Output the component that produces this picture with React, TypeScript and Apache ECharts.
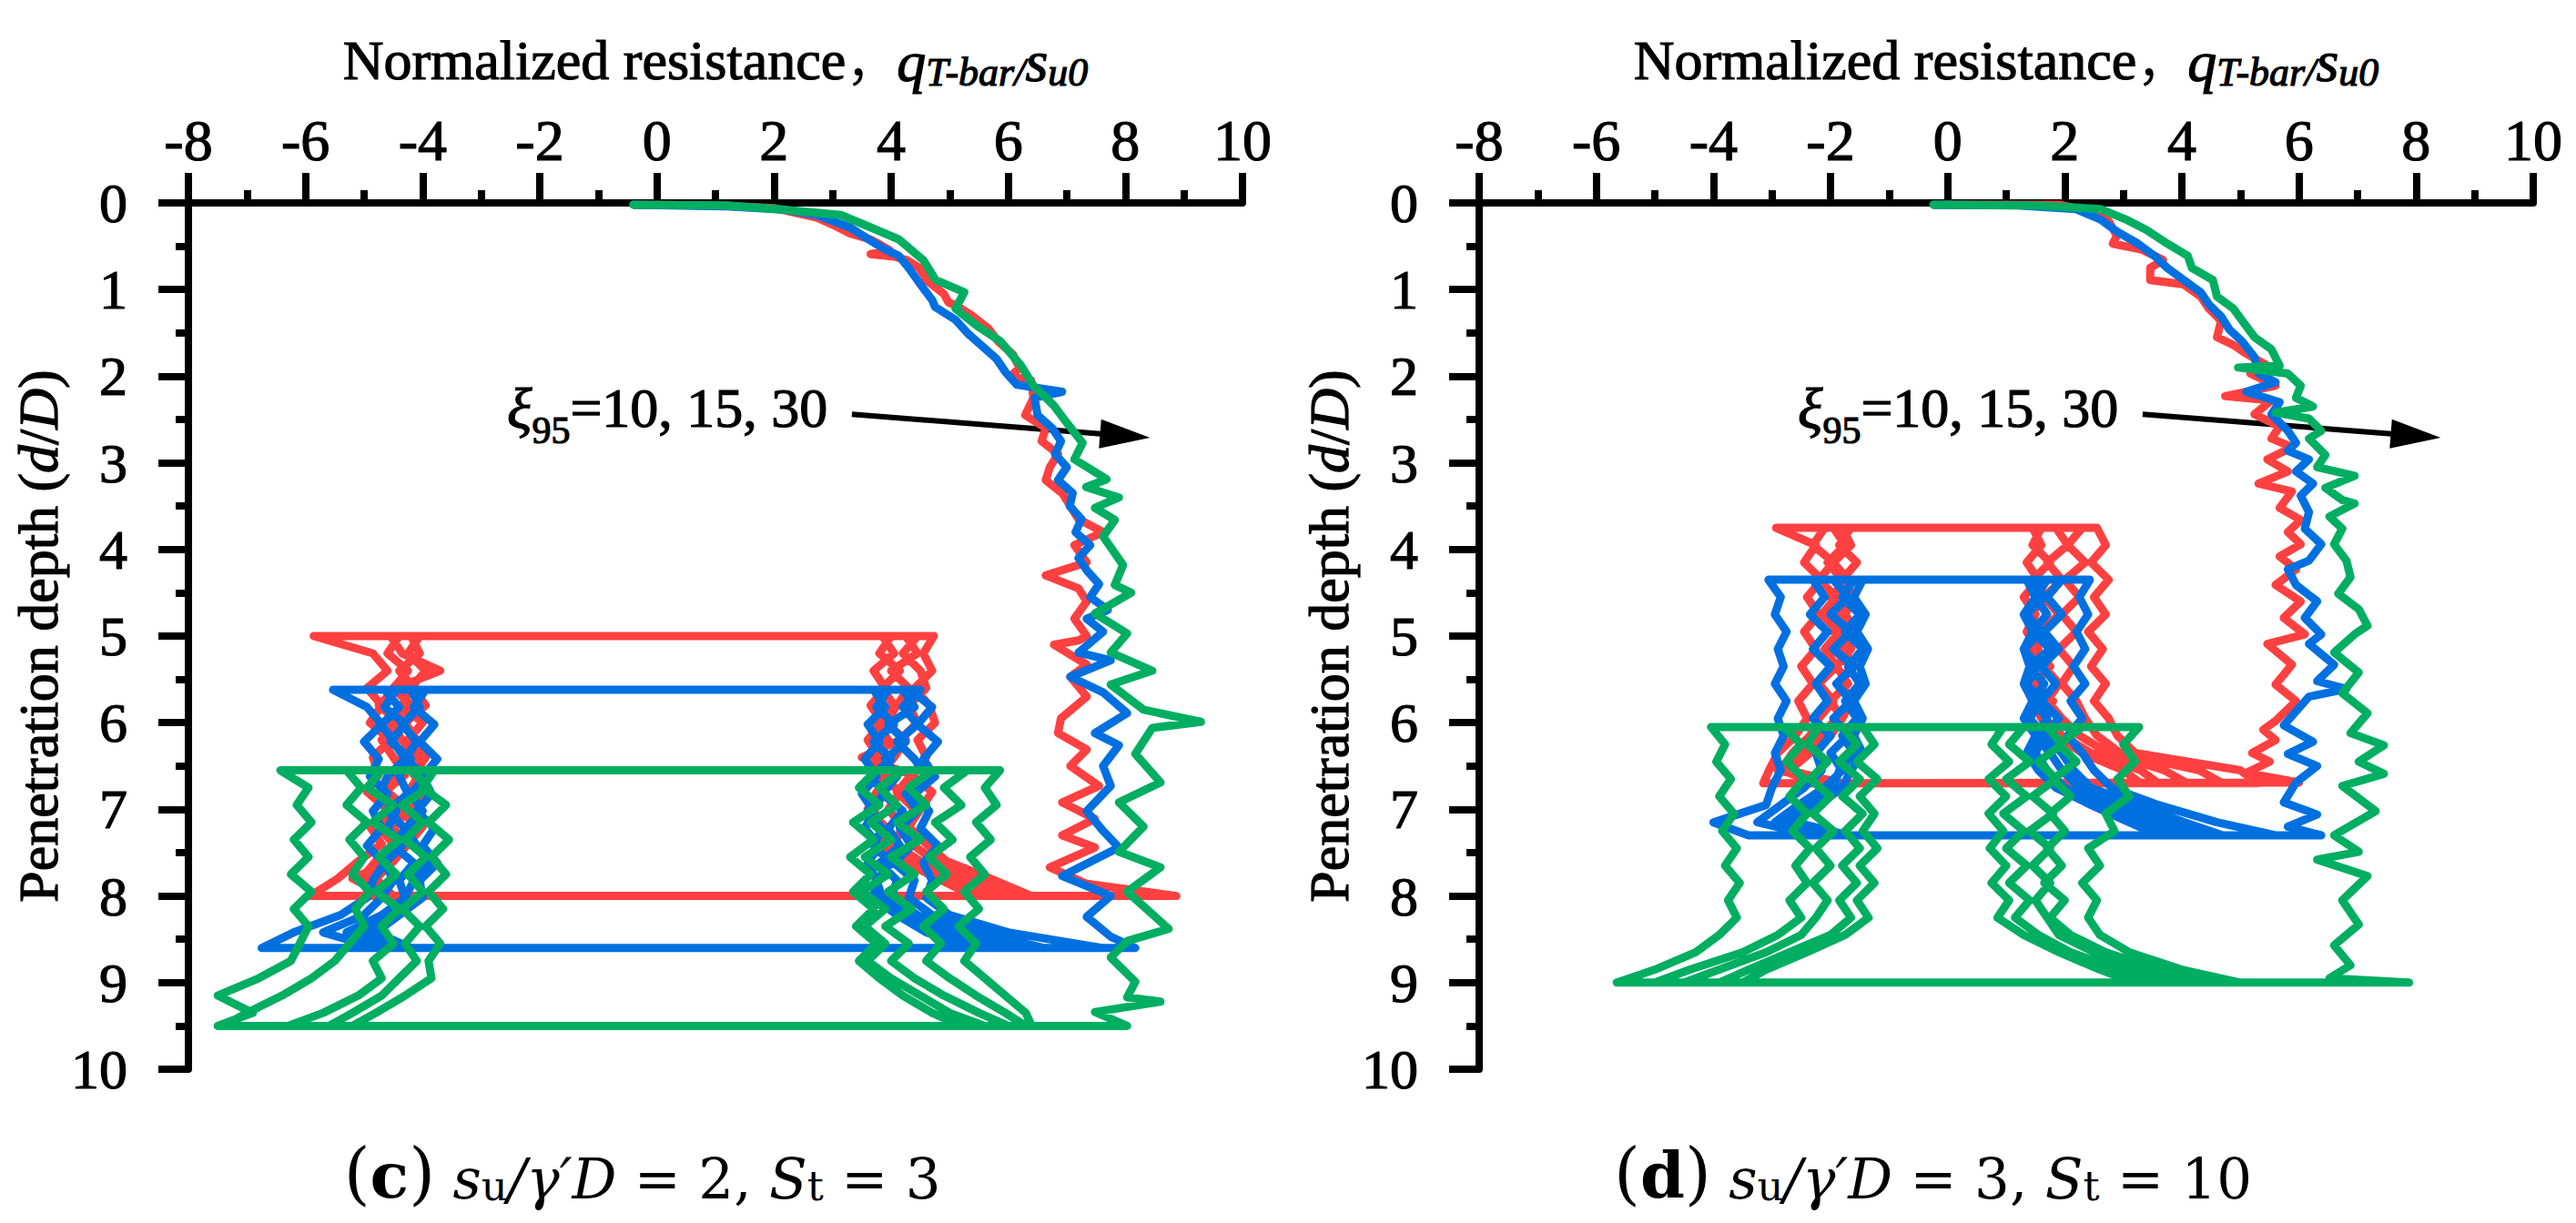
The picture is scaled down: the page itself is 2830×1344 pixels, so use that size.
// T-bar 循环贯入曲线 (c)(d) 两个子图
import { useEffect, useRef } from 'react'
import * as echarts from 'echarts'

const SERIF = "'Liberation Serif', 'Times New Roman', Times, Tinos, 'DejaVu Serif'"
const CJK = "'Noto Sans CJK SC'"
const CAPTION_FONT = "'DejaVu Serif'"

const RED = '#FF4040'
const BLUE = '#0070E0'
const GREEN = '#00AE62'

// 文字略加描边，模拟原图较粗的字形
const INK = { textBorderColor: '#000', textBorderWidth: 1.2 }

// 坐标轴范围
const X_MIN = -8
const X_MAX = 10
const X_STEP = 2
const Y_MIN = 0
const Y_MAX = 10
const Y_STEP = 1

// ---------- (c) su/γ'D = 2, St = 3 ----------
// 初次贯入 [q/su0, d/D]
const cRedMain = [
  [-0.4, 0.02], [1.0, 0.03], [2.0, 0.06], [2.73, 0.17], [3.0, 0.25], [3.29, 0.35], [3.64, 0.42], [3.78, 0.47],
  [3.98, 0.55], [3.65, 0.59], [4.05, 0.62], [4.27, 0.66], [4.48, 0.75], [4.62, 0.9], [4.9, 1.05], [4.98, 1.15],
  [5.1, 1.18], [5.38, 1.3], [5.66, 1.45], [5.83, 1.6], [6.08, 1.75], [6.19, 1.9], [6.05, 2.0], [6.39, 2.05],
  [6.43, 2.25], [6.29, 2.45], [6.64, 2.6], [6.57, 2.75], [6.85, 2.9], [6.71, 3.05], [6.64, 3.2], [6.92, 3.35],
  [7.06, 3.5], [7.2, 3.65], [7.62, 3.8], [7.13, 3.95], [7.34, 4.15], [6.64, 4.3], [7.2, 4.45], [7.34, 4.6],
  [7.13, 4.8], [7.34, 5.0], [7.2, 5.05], [6.78, 5.1], [7.34, 5.33], [7.06, 5.47], [7.34, 5.7], [6.9, 5.95],
  [6.85, 6.12], [7.34, 6.31], [7.06, 6.5], [7.55, 6.73], [6.92, 6.92], [7.48, 7.11], [6.92, 7.3], [7.48, 7.44],
  [6.71, 7.67], [7.34, 7.86], [8.87, 8.0],
]
const cBlueMain = [
  [-0.4, 0.02], [1.2, 0.04], [2.2, 0.08], [2.73, 0.14], [3.29, 0.28], [3.57, 0.4], [3.85, 0.52], [4.13, 0.61],
  [4.3, 0.75], [4.5, 0.94], [4.7, 1.12], [4.75, 1.2], [5.1, 1.35], [5.3, 1.5], [5.55, 1.65], [5.8, 1.8],
  [5.95, 1.95], [6.15, 2.1], [6.92, 2.18], [6.45, 2.25], [6.5, 2.45], [6.75, 2.6], [6.9, 2.75], [6.8, 2.9],
  [7.0, 3.05], [6.85, 3.2], [7.1, 3.35], [7.05, 3.5], [7.25, 3.65], [7.15, 3.8], [7.4, 3.95], [7.2, 4.1],
  [7.35, 4.25], [7.55, 4.4], [7.4, 4.55], [7.7, 4.7], [7.34, 4.8], [7.62, 4.95], [7.2, 5.19], [7.75, 5.28],
  [7.06, 5.47], [7.62, 5.65], [8.03, 5.89], [7.48, 6.12], [7.89, 6.26], [7.62, 6.5], [7.75, 6.73], [7.34, 7.02],
  [7.62, 7.25], [7.89, 7.44], [6.92, 7.77], [7.75, 8.0], [7.34, 8.24], [7.75, 8.47], [8.17, 8.6],
]
const cGreenMain = [
  [-0.4, 0.02], [1.2, 0.03], [2.04, 0.07], [3.15, 0.14], [3.57, 0.26], [4.13, 0.42], [4.55, 0.66], [4.76, 0.89],
  [5.25, 1.03], [5.1, 1.22], [5.45, 1.41], [5.87, 1.6], [6.22, 1.88], [6.43, 2.11], [6.78, 2.34], [6.99, 2.53],
  [7.27, 2.77], [7.13, 2.96], [7.68, 3.19], [7.33, 3.28], [7.89, 3.4], [7.48, 3.52], [7.82, 3.66], [7.62, 3.85],
  [7.96, 4.18], [7.82, 4.41], [8.1, 4.5], [7.48, 4.74], [8.03, 4.97], [7.75, 5.19], [8.46, 5.4], [7.75, 5.56],
  [8.31, 5.85], [9.29, 5.99], [8.46, 6.06], [8.17, 6.36], [8.6, 6.69], [7.89, 6.92], [8.31, 7.2], [7.89, 7.49],
  [8.6, 7.67], [8.03, 7.95], [8.74, 8.38], [8.03, 8.52], [7.75, 8.71], [8.17, 8.99], [8.03, 9.17], [8.6, 9.22],
  [7.48, 9.34], [8.03, 9.5],
]

// 循环段：深度网格（自上而下）与每次上拔 / 贯入的阻力
const cRedDepths = [5.0, 5.2, 5.4, 5.6, 5.8, 6.0, 6.2, 6.4, 6.6, 6.8, 7.0, 7.2, 7.4, 7.6, 7.8, 8.0]
const cRedExtract = [
  [-5.86, -4.85, -4.6, -4.95, -4.7, -4.9, -4.55, -4.85, -4.75, -4.95, -4.6, -4.9, -4.7, -5.1, -5.45, -5.92],
  [-4.55, -4.35, -3.7, -4.45, -4.75, -4.4, -4.7, -4.5, -4.3, -4.65, -4.45, -4.75, -4.5, -4.8, -5.05, -4.9],
  [-4.4, -4.6, -4.25, -4.5, -4.2, -4.55, -4.35, -4.1, -4.45, -4.6, -4.25, -4.5, -4.35, -4.65, -4.9, -4.7],
  [-4.2, -4.05, -4.4, -4.15, -3.95, -4.3, -4.1, -4.35, -4.05, -4.25, -4.4, -4.1, -4.3, -4.55, -5.2, -4.6],
  [-4.05, -4.25, -3.95, -4.2, -4.35, -4.0, -4.25, -3.95, -4.15, -3.9, -4.2, -4.0, -4.25, -4.5, -4.8, -4.5],
]
const cRedPenetrate = [
  [4.73, 4.55, 4.7, 4.4, 4.65, 4.75, 4.45, 4.6, 4.35, 4.7, 4.5, 4.3, 4.6, 4.95, 5.7, 6.4],
  [4.45, 4.2, 4.5, 4.6, 4.3, 4.45, 4.15, 3.5, 4.35, 4.1, 4.4, 4.15, 4.35, 4.75, 5.4, 6.2],
  [4.25, 4.45, 4.0, 4.3, 4.1, 3.9, 4.25, 4.05, 3.8, 4.15, 3.95, 4.2, 4.05, 4.5, 5.2, 5.8],
  [4.0, 3.8, 4.15, 3.85, 4.05, 3.75, 3.95, 3.7, 4.0, 3.75, 3.6, 3.9, 3.95, 4.35, 5.0, 5.6],
  [3.85, 4.05, 3.7, 3.9, 3.65, 3.85, 3.6, 3.8, 3.65, 3.9, 3.7, 3.85, 3.8, 4.2, 4.8, 5.4],
]
const cBlueDepths = [5.62, 5.82, 6.02, 6.22, 6.42, 6.62, 6.82, 7.02, 7.22, 7.42, 7.62, 7.82, 8.02, 8.22, 8.42, 8.6]
const cBlueExtract = [
  [-5.53, -4.95, -4.7, -5.0, -4.75, -4.9, -4.6, -4.85, -4.7, -4.95, -4.65, -4.85, -4.95, -5.4, -6.2, -6.75],
  [-4.65, -4.4, -4.7, -4.5, -4.3, -4.6, -4.75, -4.45, -4.6, -4.35, -4.65, -4.5, -4.7, -5.0, -5.7, -4.8],
  [-4.45, -4.65, -4.3, -4.55, -4.2, -4.4, -4.25, -4.6, -4.3, -4.5, -4.15, -4.4, -4.3, -4.7, -5.3, -4.5],
  [-4.2, -4.05, -4.35, -4.1, -4.3, -3.95, -4.2, -4.0, -4.3, -4.1, -3.9, -4.15, -4.3, -4.6, -5.0, -4.3],
  [-3.95, -4.15, -3.8, -4.05, -3.75, -4.0, -3.85, -4.1, -3.8, -4.0, -3.75, -4.05, -4.0, -4.4, -4.8, -4.2],
]
const cBluePenetrate = [
  [4.32, 4.7, 4.45, 4.8, 4.55, 4.75, 4.4, 4.65, 4.5, 4.8, 4.55, 4.7, 4.6, 5.0, 6.0, 7.6],
  [4.5, 4.2, 4.45, 4.1, 4.4, 4.6, 4.25, 4.45, 4.15, 4.35, 4.05, 4.4, 4.3, 4.7, 5.5, 6.6],
  [4.2, 4.4, 3.95, 4.25, 3.9, 4.1, 3.85, 4.2, 3.95, 4.15, 3.8, 4.1, 4.0, 4.45, 5.1, 6.1],
  [3.95, 3.75, 4.05, 3.7, 4.0, 3.65, 3.9, 3.6, 3.85, 3.7, 4.0, 3.75, 3.85, 4.25, 4.8, 5.6],
  [3.7, 3.9, 3.6, 3.8, 3.55, 3.75, 3.5, 3.7, 3.55, 3.8, 3.6, 3.75, 3.7, 4.1, 4.6, 5.3],
]
const cGreenDepths = [6.55, 6.75, 6.95, 7.15, 7.35, 7.55, 7.75, 7.95, 8.15, 8.35, 8.55, 8.75, 8.95, 9.15, 9.35, 9.5]
const cGreenExtract = [
  [-6.43, -5.95, -6.15, -5.9, -6.2, -5.95, -6.25, -5.9, -6.2, -5.95, -6.1, -6.25, -6.8, -7.5, -6.9, -7.5],
  [-5.3, -5.05, -5.3, -4.95, -5.25, -5.0, -5.2, -4.9, -5.15, -5.0, -5.25, -5.5, -5.9, -6.4, -7.0, -7.4],
  [-4.7, -4.95, -4.5, -4.85, -4.4, -4.75, -4.45, -4.8, -4.4, -4.7, -4.5, -4.85, -4.7, -5.1, -5.7, -6.3],
  [-4.2, -3.9, -4.35, -4.0, -4.3, -3.95, -4.25, -4.0, -4.35, -4.05, -4.3, -4.1, -4.4, -4.7, -5.2, -5.6],
  [-3.8, -4.0, -3.6, -3.9, -3.55, -3.85, -3.6, -3.9, -3.65, -3.95, -3.7, -3.9, -3.85, -4.3, -4.8, -5.2],
]
const cGreenPenetrate = [
  [5.86, 5.6, 5.8, 5.45, 5.7, 5.35, 5.6, 5.25, 5.5, 5.15, 5.45, 5.25, 5.6, 5.95, 6.3, 6.4],
  [5.3, 4.9, 5.2, 4.75, 5.05, 4.65, 4.95, 4.6, 4.9, 4.55, 4.85, 4.6, 5.0, 5.45, 5.95, 6.3],
  [4.7, 4.3, 4.6, 4.1, 4.5, 4.0, 4.4, 3.95, 4.35, 3.9, 4.3, 4.0, 4.4, 4.9, 5.5, 6.0],
  [4.2, 3.8, 4.1, 3.65, 4.0, 3.55, 3.95, 3.5, 3.9, 3.55, 3.9, 3.6, 4.0, 4.5, 5.0, 5.6],
  [3.75, 3.45, 3.8, 3.35, 3.7, 3.3, 3.65, 3.35, 3.7, 3.4, 3.75, 3.45, 3.8, 4.2, 4.7, 5.2],
]

// ---------- (d) su/γ'D = 3, St = 10 ----------
const dRedMain = [
  [-0.24, 0.02], [1.9, 0.02], [2.4, 0.09], [2.75, 0.21], [2.89, 0.38], [2.82, 0.47], [3.32, 0.54], [3.68, 0.66],
  [3.46, 0.75], [3.46, 0.89], [4.03, 0.94], [4.32, 1.08], [4.46, 1.22], [4.67, 1.36], [4.6, 1.55], [4.88, 1.64],
  [5.1, 1.74], [5.46, 1.88], [5.17, 1.97], [5.6, 2.11], [4.74, 2.23], [5.53, 2.28], [5.24, 2.44], [5.67, 2.58],
  [5.53, 2.72], [5.88, 2.82], [5.46, 2.96], [5.81, 3.1], [5.31, 3.24], [5.88, 3.33], [5.67, 3.52], [6.03, 3.66],
  [5.81, 3.8], [6.03, 3.94], [5.67, 4.08], [5.95, 4.23], [5.6, 4.41], [6.03, 4.6], [5.74, 4.79], [6.1, 4.98],
  [5.46, 5.09], [5.88, 5.33], [5.6, 5.56], [5.95, 5.75], [5.6, 5.98], [5.39, 6.08], [5.6, 6.2], [5.2, 6.35],
  [5.5, 6.45], [5.1, 6.58], [6.0, 6.69],
]
const dBlueMain = [
  [-0.24, 0.02], [1.2, 0.03], [2.18, 0.07], [2.61, 0.19], [2.89, 0.33], [3.25, 0.47], [3.53, 0.61], [3.75, 0.75],
  [4.03, 0.89], [4.32, 1.03], [4.46, 1.17], [4.67, 1.31], [4.81, 1.46], [5.03, 1.6], [5.24, 1.78], [5.31, 1.97],
  [5.6, 2.07], [5.1, 2.18], [5.67, 2.3], [5.53, 2.44], [5.81, 2.63], [5.95, 2.77], [5.81, 2.86], [6.17, 2.96],
  [5.95, 3.1], [6.24, 3.24], [6.03, 3.38], [6.17, 3.57], [6.1, 3.76], [6.38, 3.94], [6.17, 4.13], [5.81, 4.23],
  [5.95, 4.41], [6.31, 4.6], [6.1, 4.79], [6.38, 4.98], [6.17, 5.09], [6.6, 5.33], [6.31, 5.52], [6.81, 5.61],
  [6.17, 5.7], [5.74, 6.03], [6.24, 6.22], [5.81, 6.36], [6.31, 6.5], [5.95, 6.69], [5.74, 6.92], [6.31, 7.06],
  [5.81, 7.2], [6.38, 7.3],
]
const dGreenMain = [
  [-0.24, 0.02], [1.5, 0.03], [2.61, 0.07], [3.04, 0.19], [3.39, 0.31], [3.75, 0.47], [4.1, 0.61], [4.17, 0.75],
  [4.53, 0.89], [4.6, 1.08], [4.88, 1.22], [5.03, 1.36], [5.24, 1.55], [5.53, 1.69], [5.67, 1.88], [4.96, 1.9],
  [5.81, 1.97], [6.03, 2.11], [5.95, 2.25], [6.24, 2.35], [5.6, 2.42], [6.17, 2.49], [6.38, 2.63], [6.17, 2.72],
  [6.45, 2.91], [6.31, 3.05], [6.95, 3.15], [6.45, 3.29], [6.74, 3.43], [6.95, 3.47], [6.52, 3.62], [6.74, 3.76],
  [6.6, 3.94], [6.81, 4.13], [6.88, 4.32], [6.67, 4.51], [7.02, 4.69], [7.17, 4.88], [6.95, 4.98], [6.6, 5.19],
  [7.02, 5.42], [6.74, 5.66], [7.17, 5.89], [6.88, 6.12], [7.45, 6.26], [7.02, 6.45], [7.45, 6.59], [6.74, 6.73],
  [7.31, 7.02], [6.6, 7.3], [7.02, 7.49], [6.31, 7.58], [7.17, 7.77], [6.74, 8.05], [7.02, 8.33], [6.6, 8.57],
  [6.88, 8.8], [6.52, 8.95], [7.88, 9.0],
]

const dRedDepths = [3.75, 3.95, 4.15, 4.35, 4.55, 4.75, 4.95, 5.15, 5.35, 5.55, 5.75, 5.95, 6.15, 6.35, 6.55, 6.7]
const dRedExtract = [
  [-2.93, -2.25, -2.45, -2.15, -2.4, -2.2, -2.45, -2.25, -2.5, -2.3, -2.55, -2.4, -2.6, -2.9, -3.05, -3.15],
  [-2.1, -2.3, -1.95, -2.2, -1.9, -2.15, -1.85, -2.1, -1.9, -2.2, -1.95, -2.2, -2.35, -2.65, -2.85, -2.2],
  [-1.8, -1.65, -1.95, -1.7, -2.0, -1.75, -1.95, -1.65, -1.9, -1.7, -2.0, -1.8, -2.05, -2.45, -2.75, -2.0],
  [-1.95, -1.75, -2.05, -1.8, -1.6, -1.9, -1.7, -1.95, -1.65, -1.85, -1.6, -1.9, -2.15, -2.55, -2.9, -1.9],
  [-1.65, -1.85, -1.55, -1.8, -1.6, -1.75, -1.55, -1.8, -1.6, -1.85, -1.65, -1.8, -2.0, -2.35, -2.7, -1.8],
]
const dRedPenetrate = [
  [2.55, 2.7, 2.45, 2.75, 2.5, 2.7, 2.4, 2.65, 2.45, 2.7, 2.5, 2.75, 2.9, 3.2, 5.0, 5.3],
  [2.3, 2.05, 2.35, 2.0, 2.25, 1.95, 2.2, 1.9, 2.15, 1.95, 2.2, 2.35, 2.55, 2.95, 4.3, 4.7],
  [1.85, 2.05, 1.7, 1.95, 1.65, 1.9, 1.6, 1.85, 1.65, 1.9, 1.7, 1.95, 2.25, 2.75, 3.7, 4.1],
  [1.6, 1.45, 1.75, 1.45, 1.7, 1.4, 1.65, 1.45, 1.75, 1.5, 1.8, 1.65, 1.95, 2.45, 3.3, 3.6],
  [1.45, 1.6, 1.35, 1.55, 1.3, 1.5, 1.35, 1.55, 1.4, 1.6, 1.45, 1.6, 1.85, 2.3, 3.0, 3.3],
]
const dBlueDepths = [4.35, 4.55, 4.75, 4.95, 5.15, 5.35, 5.55, 5.75, 5.95, 6.15, 6.35, 6.55, 6.75, 6.95, 7.15, 7.3]
const dBlueExtract = [
  [-3.06, -2.85, -2.95, -2.75, -2.9, -2.8, -2.95, -2.75, -2.9, -2.8, -2.95, -2.85, -3.0, -3.1, -4.0, -3.4],
  [-2.3, -2.1, -2.35, -2.05, -2.3, -2.0, -2.25, -2.05, -2.3, -2.0, -2.25, -2.15, -2.45, -2.85, -3.25, -2.3],
  [-1.95, -1.7, -2.0, -1.65, -1.95, -1.6, -1.9, -1.65, -1.95, -1.7, -2.0, -1.8, -2.1, -2.55, -2.95, -2.0],
  [-1.6, -1.8, -1.5, -1.75, -1.45, -1.7, -1.5, -1.75, -1.55, -1.8, -1.6, -1.85, -1.95, -2.35, -2.75, -1.8],
  [-1.45, -1.6, -1.4, -1.55, -1.36, -1.5, -1.4, -1.6, -1.45, -1.6, -1.45, -1.65, -1.8, -2.2, -2.6, -1.7],
]
const dBluePenetrate = [
  [2.43, 2.25, 2.4, 2.2, 2.35, 2.15, 2.35, 2.1, 2.3, 2.05, 2.3, 2.5, 2.8, 3.6, 4.6, 5.6],
  [1.95, 1.7, 1.95, 1.65, 1.9, 1.6, 1.85, 1.6, 1.9, 1.65, 1.95, 2.15, 2.45, 3.25, 4.05, 4.7],
  [1.7, 1.5, 1.7, 1.45, 1.75, 1.4, 1.65, 1.45, 1.7, 1.5, 1.75, 1.95, 2.25, 2.95, 3.7, 4.3],
  [1.5, 1.65, 1.35, 1.6, 1.3, 1.55, 1.35, 1.6, 1.4, 1.65, 1.5, 1.7, 2.0, 2.65, 3.35, 3.9],
  [1.35, 1.5, 1.3, 1.45, 1.3, 1.4, 1.3, 1.45, 1.3, 1.5, 1.35, 1.55, 1.85, 2.45, 3.1, 3.6],
]
const dGreenDepths = [6.05, 6.25, 6.45, 6.65, 6.85, 7.05, 7.25, 7.45, 7.65, 7.85, 8.05, 8.25, 8.45, 8.65, 8.85, 9.0]
const dGreenExtract = [
  [-4.04, -3.8, -3.95, -3.7, -3.9, -3.65, -3.85, -3.6, -3.8, -3.55, -3.75, -3.6, -3.9, -4.3, -5.0, -5.65],
  [-2.8, -2.5, -2.75, -2.45, -2.7, -2.4, -2.65, -2.35, -2.6, -2.4, -2.7, -2.5, -2.9, -3.5, -4.4, -5.0],
  [-2.2, -2.4, -2.05, -2.35, -2.0, -2.3, -1.95, -2.25, -2.0, -2.3, -2.05, -2.25, -2.5, -3.1, -3.9, -4.5],
  [-1.8, -1.55, -1.85, -1.5, -1.8, -1.45, -1.75, -1.5, -1.8, -1.55, -1.85, -1.65, -2.0, -2.7, -3.4, -3.9],
  [-1.45, -1.25, -1.55, -1.2, -1.5, -1.25, -1.45, -1.2, -1.5, -1.25, -1.55, -1.35, -1.75, -2.4, -3.1, -3.5],
]
const dGreenPenetrate = [
  [3.27, 3.0, 3.2, 2.9, 3.1, 2.7, 2.85, 2.4, 2.6, 2.3, 2.55, 2.4, 2.6, 3.1, 4.0, 5.0],
  [2.3, 1.9, 2.2, 1.8, 2.1, 1.75, 2.0, 1.7, 1.95, 1.65, 2.0, 1.75, 2.1, 2.7, 3.6, 4.4],
  [1.7, 1.95, 1.55, 1.85, 1.45, 1.8, 1.4, 1.75, 1.45, 1.75, 1.5, 1.7, 1.9, 2.5, 3.3, 3.9],
  [1.3, 1.05, 1.4, 1.0, 1.35, 0.95, 1.3, 1.0, 1.35, 1.05, 1.4, 1.15, 1.55, 2.1, 2.9, 3.5],
  [0.95, 0.75, 1.05, 0.7, 1.0, 0.7, 0.95, 0.72, 1.0, 0.75, 1.05, 0.85, 1.3, 1.9, 2.6, 3.2],
]

// 标注位置（数据坐标）
const labelAt = [-2.56, 2.04]
const arrowFrom = [3.33, 2.44]
const arrowTo = [8.42, 2.71]
const captionAt = [-0.25, 11.59]

// 初次贯入 + 多次上拔/贯入，按试验顺序连成一条线
function buildTrace(main: number[][], depths: number[], ext: number[][], pen: number[][]) {
  const pts = main.map(p => [p[0], p[1]])
  for (let i = 0; i < ext.length; i++) {
    for (let k = depths.length - 1; k >= 0; k--) pts.push([ext[i][k], depths[k]])
    for (let k = 0; k < depths.length; k++) pts.push([pen[i][k], depths[k]])
  }
  return pts
}

const panels = [
  {
    traces: [
      { color: RED, data: buildTrace(cRedMain, cRedDepths, cRedExtract, cRedPenetrate) },
      { color: BLUE, data: buildTrace(cBlueMain, cBlueDepths, cBlueExtract, cBluePenetrate) },
      { color: GREEN, data: buildTrace(cGreenMain, cGreenDepths, cGreenExtract, cGreenPenetrate) },
    ],
    caption: ['c', '2', '3'],
  },
  {
    traces: [
      { color: RED, data: buildTrace(dRedMain, dRedDepths, dRedExtract, dRedPenetrate) },
      { color: BLUE, data: buildTrace(dBlueMain, dBlueDepths, dBlueExtract, dBluePenetrate) },
      { color: GREEN, data: buildTrace(dGreenMain, dGreenDepths, dGreenExtract, dGreenPenetrate) },
    ],
    caption: ['d', '3', '10'],
  },
]

const gridBoxes = [
  { left: 207, top: 223, width: 1158, height: 952 },
  { left: 1625, top: 223, width: 1158, height: 952 },
]

// 下标用 bottom 对齐，行高控制下沉量
const xNameRich = {
  t: { fontFamily: SERIF, fontSize: 62, lineHeight: 62, verticalAlign: 'top', color: '#000', ...INK },
  c: { fontFamily: CJK, fontSize: 56, lineHeight: 62, verticalAlign: 'top', color: '#000' },
  q: { fontFamily: SERIF, fontSize: 64, fontStyle: 'italic', lineHeight: 64, verticalAlign: 'top', color: '#000', ...INK },
  s: { fontFamily: SERIF, fontSize: 44, fontStyle: 'italic', lineHeight: 66, verticalAlign: 'bottom', color: '#000', ...INK },
}

const yNameRich = {
  a: { fontFamily: SERIF, fontSize: 62, lineHeight: 62, color: '#000', ...INK },
  i: { fontFamily: SERIF, fontSize: 62, lineHeight: 62, fontStyle: 'italic', color: '#000', ...INK },
}

function buildOption(): echarts.EChartsOption {
  const axisLineStyle = { color: '#000', width: 8 }
  return {
    animation: false,
    backgroundColor: '#fff',
    grid: gridBoxes.map(b => ({ ...b, containLabel: false, outerBoundsMode: 'none' } as any)),
    xAxis: gridBoxes.map((_, i) => ({
      gridIndex: i,
      type: 'value',
      position: 'top',
      min: X_MIN,
      max: X_MAX,
      interval: X_STEP,
      name: '{t|Normalized resistance}{c|，}{q|q}{s|T-bar}{s|/}{q|s}{s|u0}',
      nameLocation: 'middle',
      nameGap: 122,
      nameTextStyle: { rich: xNameRich },
      axisLine: { show: true, onZero: false, lineStyle: axisLineStyle },
      axisTick: { show: true, inside: false, length: 33, lineStyle: axisLineStyle },
      minorTick: { show: true, splitNumber: 2, length: 14, lineStyle: axisLineStyle },
      axisLabel: {
        margin: 37, fontSize: 64, fontFamily: SERIF, color: '#000', ...INK,
        showMinLabel: true, showMaxLabel: true,
      },
      splitLine: { show: false },
      minorSplitLine: { show: false },
    })),
    yAxis: gridBoxes.map((_, i) => ({
      gridIndex: i,
      type: 'value',
      position: 'left',
      inverse: true,
      min: Y_MIN,
      max: Y_MAX,
      interval: Y_STEP,
      name: '{a|Penetration depth (}{i|d}{a|/}{i|D}{a|)}',
      nameLocation: 'middle',
      nameGap: 121,
      nameTextStyle: { rich: yNameRich },
      axisLine: { show: true, onZero: false, lineStyle: axisLineStyle },
      axisTick: { show: true, inside: false, length: 33, lineStyle: axisLineStyle },
      minorTick: { show: true, splitNumber: 2, length: 14, lineStyle: axisLineStyle },
      axisLabel: {
        margin: 67, fontSize: 62, fontFamily: SERIF, color: '#000', ...INK,
        showMinLabel: true, showMaxLabel: true,
      },
      splitLine: { show: false },
      minorSplitLine: { show: false },
    })),
    series: panels.flatMap((p, i) =>
      p.traces.map(t => ({
        type: 'line',
        xAxisIndex: i,
        yAxisIndex: i,
        data: t.data,
        showSymbol: false,
        symbol: 'none',
        silent: true,
        clip: true,
        lineStyle: { color: t.color, width: 9, cap: 'round', join: 'round' },
        itemStyle: { color: t.color },
      }))
    ) as any,
  }
}

const NOTE_INK = { stroke: '#000', lineWidth: 1.2 }

const noteRich = {
  x: { fontFamily: SERIF, fontSize: 64, fontStyle: 'italic', lineHeight: 64, verticalAlign: 'top', fill: '#000', ...NOTE_INK },
  n: { fontFamily: SERIF, fontSize: 42, lineHeight: 77, verticalAlign: 'bottom', fill: '#000', ...NOTE_INK },
  t: { fontFamily: SERIF, fontSize: 62, lineHeight: 62, verticalAlign: 'top', fill: '#000', ...NOTE_INK },
}

const captionRich = {
  p: { fontFamily: CAPTION_FONT, fontSize: 74, lineHeight: 74, verticalAlign: 'bottom', fill: '#000' },
  b: { fontFamily: CAPTION_FONT, fontSize: 70, fontWeight: 'bold', lineHeight: 74, verticalAlign: 'bottom', fill: '#000' },
  i: { fontFamily: CAPTION_FONT, fontSize: 61, fontStyle: 'italic', lineHeight: 61, verticalAlign: 'bottom', fill: '#000' },
  u: { fontFamily: CAPTION_FONT, fontSize: 45, lineHeight: 45, verticalAlign: 'bottom', fill: '#000' },
  r: { fontFamily: CAPTION_FONT, fontSize: 61, lineHeight: 61, verticalAlign: 'bottom', fill: '#000' },
}

function buildGraphics(chart: echarts.ECharts) {
  const els: any[] = []
  panels.forEach((p, i) => {
    const toPx = (v: number[]) => chart.convertToPixel({ gridIndex: i }, v) as number[]

    const lp = toPx(labelAt)
    els.push({
      type: 'text', x: lp[0], y: lp[1], silent: true,
      style: { text: '{x|ξ}{n|95}{t|=10, 15, 30}', rich: noteRich, align: 'left', verticalAlign: 'top' },
    })

    // 箭头：线段 + 三角形箭头
    const s = toPx(arrowFrom)
    const e = toPx(arrowTo)
    const dx = e[0] - s[0]
    const dy = e[1] - s[1]
    const len = Math.sqrt(dx * dx + dy * dy)
    const ux = dx / len
    const uy = dy / len
    const headLen = 55
    const headHalf = 16
    const bx = e[0] - ux * headLen
    const by = e[1] - uy * headLen
    els.push({
      type: 'line', silent: true,
      shape: { x1: s[0], y1: s[1], x2: bx + ux * 4, y2: by + uy * 4 },
      style: { stroke: '#000', lineWidth: 6 },
    })
    els.push({
      type: 'polygon', silent: true,
      shape: { points: [[e[0], e[1]], [bx - uy * headHalf, by + ux * headHalf], [bx + uy * headHalf, by - ux * headHalf]] },
      style: { fill: '#000' },
    })

    const cp = toPx(captionAt)
    const [tag, ratio, st] = p.caption
    els.push({
      type: 'text', x: cp[0], y: cp[1], silent: true,
      style: {
        text: `{p|(}{b|${tag}}{p|)}{r| }{i|s}{u|u}{i|/γ′D}{r| = ${ratio}, }{i|S}{u|t}{r| = ${st}}`,
        rich: captionRich, align: 'center', verticalAlign: 'bottom',
      },
    })
  })
  return els
}

export default function App() {
  const chartRef = useRef<HTMLDivElement>(null)

  useEffect(() => {
    document.body.style.margin = '0'
    if (!chartRef.current) return
    const chart = echarts.init(chartRef.current, null, { renderer: 'svg' })
    chart.setOption(buildOption())
    chart.setOption({ graphic: buildGraphics(chart) })
    return () => {
      chart.dispose()
    }
  }, [])

  return <div ref={chartRef} style={{ width: 2830, height: 1344 }} />
}
